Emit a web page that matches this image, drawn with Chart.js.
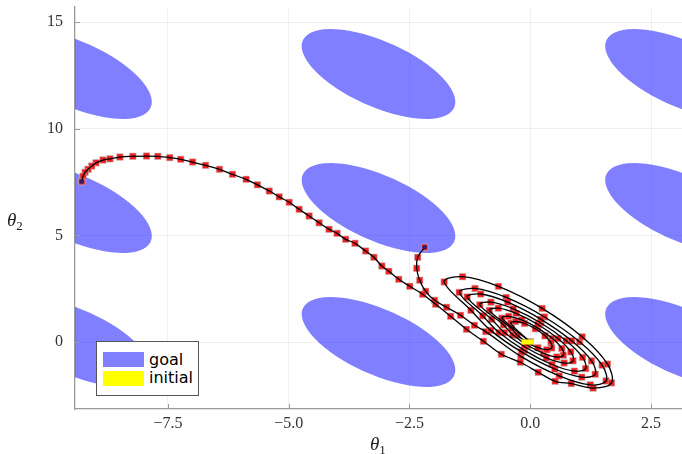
<!DOCTYPE html>
<html>
<head>
<meta charset="utf-8">
<script src="https://cdn.jsdelivr.net/npm/chart.js@4.4.0/dist/chart.umd.min.js"></script>
<style>
  html, body { margin: 0; background: #fff; overflow: hidden; }
  #wrap { position: relative; width: 682px; height: 454px; overflow: hidden; }
  #plot { position: absolute; left: 0; top: 0; }
  .axlabel { position: absolute; font: italic 19px "Liberation Serif", serif; line-height: 19px; color: #222; white-space: nowrap; }
  .axlabel sub { font-style: normal; font-size: 13px; vertical-align: -4px; line-height: 0; }
  #legend { position: absolute; left: 96px; top: 341px; width: 101px; height: 53px; border: 1px solid #555; background: #fff; }
  #legend .sw { position: absolute; left: 6px; width: 41px; }
  #legend .lab { position: absolute; left: 52px; font: 16px "DejaVu Sans", sans-serif; line-height: 16px; color: #000; }
</style>
</head>
<body>
<div id="wrap">
  <canvas id="plot" width="682" height="454"></canvas>
  <div class="axlabel" style="left:370px; top:434px;">θ<sub>1</sub></div>
  <div class="axlabel" style="left:7px; top:210px;">θ<sub>2</sub></div>
  <div id="legend">
    <div class="sw" style="top:10px; height:15px; background:rgba(0,0,255,0.5);"></div>
    <div class="lab" style="top:10px;">goal</div>
    <div class="sw" style="top:29px; height:15px; background:#ffff00;"></div>
    <div class="lab" style="top:28px;">initial</div>
  </div>
</div>
<script>
// goal regions: ellipses repeated every 2π in both angles
const goalCenters1 = [-9.4248, -3.1416, 3.1416];
const goalCenters2 = [0, 6.2832, 12.5664];
// shape matrix of one goal ellipse (θ1θ1, θ2θ2, θ1θ2)
const goalShape = [2.53, 4.45, -2.084];

// initial set box [θ1 min, θ1 max, θ2 min, θ2 max]
const initBox = [-0.18, 0.07, -0.12, 0.12];

const xTicks = [-7.5, -5.0, -2.5, 0.0, 2.5];
const yTicks = [0, 5, 10, 15];

// trajectory that winds out and runs to the far left goal
const trajA_t1 = [0,
  -0.404, -0.304, -0.118, 0.105, 0.306, 0.430, 0.444, 0.344, 0.158, -0.065, -0.266, -0.390,
  -0.846, -0.661, -0.293, 0.158, 0.573, 0.839, 0.886, 0.701, 0.333, -0.118, -0.533, -0.799,
  -1.305, -1.026, -0.468, 0.222, 0.858, 1.268, 1.345, 1.066, 0.508, -0.182, -0.818, -1.228,
  -1.782, -1.401, -0.659, 0.247, 1.073, 1.599, 1.682, 1.301, 0.850,
  0.515, 0.165, -0.206, -0.598, -0.969, -1.320, -1.649, -1.959, -2.227, -2.495,
  -2.722, -2.928, -3.072, -3.237, -3.408, -3.629, -3.821, -4.000, -4.165, -4.371,
  -4.577, -4.784, -4.990, -5.196, -5.402, -5.649, -5.882, -6.165, -6.433, -6.722,
  -6.990, -7.237, -7.464, -7.711, -7.944, -8.227, -8.495, -8.701, -8.845, -8.990,
  -9.078, -9.155, -9.216, -9.258, -9.285];
const trajA_t2 = [0,
  0.879, 0.962, 0.868, 0.621, 0.288, -0.040, -0.279, -0.362, -0.268, -0.021, 0.312, 0.640,
  1.483, 1.585, 1.344, 0.822, 0.160, -0.463, -0.883, -0.985, -0.744, -0.222, 0.440, 1.063,
  2.111, 2.250, 1.867, 1.063, 0.055, -0.886, -1.511, -1.650, -1.267, -0.463, 0.545, 1.486,
  2.816, 3.062, 2.607, 1.575, 0.241, -1.036, -1.916, -2.162, -1.950,
  -1.842, -1.420, -0.951, -0.576, 0.033, 0.595, 1.205, 1.767, 2.236, 2.611,
  2.940, 3.315, 3.563, 3.971, 4.266, 4.627, 4.815, 5.096, 5.284, 5.588,
  5.907, 6.221, 6.550, 6.807, 7.079, 7.370, 7.628, 7.862, 8.097, 8.284,
  8.439, 8.565, 8.645, 8.706, 8.720, 8.706, 8.673, 8.589, 8.533, 8.401,
  8.251, 8.097, 7.956, 7.769, 7.520];

// trajectory that winds out and climbs to the middle goal
const trajB_t1 = [0,
  -0.586, -0.448, -0.176, 0.156, 0.460, 0.654, 0.686, 0.548, 0.276, -0.056, -0.360, -0.554,
  -1.046, -0.814, -0.351, 0.220, 0.745, 1.084, 1.146, 0.914, 0.451, -0.120, -0.645, -0.984,
  -1.470, -1.144, -0.499, 0.294, 1.021, 1.488, 1.570, 1.244, 0.599, -0.194, -0.921,
  -1.155, -1.443, -1.732, -1.979, -2.165, -2.289, -2.351, -2.330, -2.186];
const trajB_t2 = [0,
  1.119, 1.204, 1.033, 0.652, 0.163, -0.302, -0.619, -0.704, -0.533, -0.152, 0.337, 0.802,
  1.747, 1.868, 1.556, 0.893, 0.058, -0.724, -1.247, -1.368, -1.056, -0.393, 0.442, 1.224,
  2.326, 2.510, 2.088, 1.174, 0.012, -1.086, -1.826, -2.010, -1.588, -0.674, 0.488,
  0.783, 1.252, 1.627, 1.955, 2.377, 2.893, 3.455, 3.971, 4.440];

const toPoints = (xs, ys) => xs.map((x, i) => ({ x: x, y: ys[i] }));
const ptsA = toPoints(trajA_t1, trajA_t2);
const ptsB = toPoints(trajB_t1, trajB_t2);
const ends = [ptsA[ptsA.length - 1], ptsB[ptsB.length - 1]];

const AXIS_GRAY = '#9a9a9a';
const tickFont = { family: 'Liberation Serif', size: 16 };
const minusFmt = (v, digits) => (v < 0 ? '\u2212' : '') + Math.abs(v).toFixed(digits);

// keep the plot box fixed: no extra room for tick labels at the ends
const noPad = s => { s.paddingLeft = 0; s.paddingRight = 0; s.paddingTop = 0; s.paddingBottom = 0; };

const markerSet = pts => ({
  data: pts, showLine: false, order: 3,
  pointStyle: 'rect', pointRadius: 4.6,
  pointBackgroundColor: '#f21c1c', pointBorderColor: 'rgba(190,190,190,0.7)', pointBorderWidth: 0.8
});
const lineSet = pts => ({
  data: pts, showLine: true, order: 2, pointRadius: 0,
  borderColor: '#000', borderWidth: 1.3, tension: 0.35
});

// filled goal ellipses, drawn under the trajectories
const goalPlugin = {
  id: 'goals',
  beforeDatasetsDraw(chart) {
    const { ctx, chartArea: a, scales: { x, y } } = chart;
    const kx = x.getPixelForValue(1) - x.getPixelForValue(0);
    const ky = y.getPixelForValue(1) - y.getPixelForValue(0);
    const sxx = kx * kx * goalShape[0];
    const syy = ky * ky * goalShape[1];
    const sxy = kx * ky * goalShape[2];
    const l11 = Math.sqrt(sxx), l21 = sxy / l11, l22 = Math.sqrt(syy - l21 * l21);
    ctx.save();
    ctx.beginPath();
    ctx.rect(a.left, a.top, a.right - a.left, a.bottom - a.top);
    ctx.clip();
    ctx.fillStyle = 'rgba(0,0,255,0.5)';
    goalCenters1.forEach(c1 => goalCenters2.forEach(c2 => {
      ctx.save();
      ctx.transform(l11, l21, 0, l22, x.getPixelForValue(c1), y.getPixelForValue(c2));
      ctx.beginPath();
      ctx.arc(0, 0, 1, 0, Math.PI * 2);
      ctx.restore();
      ctx.fill();
    }));
    ctx.restore();
  },
  afterDatasetsDraw(chart) {
    const { ctx, scales: { x, y } } = chart;
    const x0 = x.getPixelForValue(initBox[0]), x1 = x.getPixelForValue(initBox[1]);
    const y0 = y.getPixelForValue(initBox[3]), y1 = y.getPixelForValue(initBox[2]);
    ctx.save();
    ctx.fillStyle = '#ffff00';
    ctx.fillRect(x0, y0, x1 - x0, y1 - y0);
    ctx.restore();
  }
};

// short tick marks pointing into the plot
const innerTicks = {
  id: 'innerTicks',
  afterDraw(chart) {
    const { ctx, chartArea: a, scales: { x, y } } = chart;
    ctx.save();
    ctx.strokeStyle = AXIS_GRAY;
    ctx.lineWidth = 1;
    ctx.beginPath();
    xTicks.forEach(v => { const p = Math.round(x.getPixelForValue(v)) + 0.5; ctx.moveTo(p, a.bottom); ctx.lineTo(p, a.bottom - 5); });
    yTicks.forEach(v => { const p = Math.round(y.getPixelForValue(v)) + 0.5; ctx.moveTo(a.left, p); ctx.lineTo(a.left + 5, p); });
    ctx.stroke();
    ctx.restore();
  }
};

new Chart(document.getElementById('plot'), {
  type: 'scatter',
  data: {
    datasets: [
      markerSet(ptsA), markerSet(ptsB),
      lineSet(ptsA), lineSet(ptsB),
      { data: ends, showLine: false, order: 1, pointStyle: 'circle', pointRadius: 2.3,
        pointBackgroundColor: '#2b1f70', pointBorderColor: '#2b1f70', pointBorderWidth: 0 }
    ]
  },
  options: {
    responsive: false,
    animation: false,
    layout: { autoPadding: false, padding: { top: 7, right: 0, bottom: 0, left: 0 } },
    plugins: { legend: { display: false }, tooltip: { enabled: false } },
    scales: {
      x: {
        type: 'linear', min: -3 * Math.PI, max: Math.PI,
        afterFit: s => { s.height = 45; noPad(s); },
        afterBuildTicks: s => { s.ticks = xTicks.map(v => ({ value: v })); },
        ticks: { callback: v => minusFmt(v, 1), font: tickFont, color: '#333', padding: 5, maxRotation: 0, autoSkip: false },
        grid: { color: 'rgba(0,0,0,0.06)', drawTicks: false },
        border: { color: AXIS_GRAY, width: 1.3 }
      },
      y: {
        type: 'linear', min: -Math.PI, max: 5 * Math.PI,
        afterFit: s => { s.width = 75; noPad(s); },
        afterBuildTicks: s => { s.ticks = yTicks.map(v => ({ value: v })); },
        ticks: { callback: v => minusFmt(v, 0), font: tickFont, color: '#333', padding: 12, autoSkip: false },
        grid: { color: 'rgba(0,0,0,0.06)', drawTicks: false },
        border: { color: AXIS_GRAY, width: 1.3 }
      }
    }
  },
  plugins: [goalPlugin, innerTicks]
});
</script>
</body>
</html>
